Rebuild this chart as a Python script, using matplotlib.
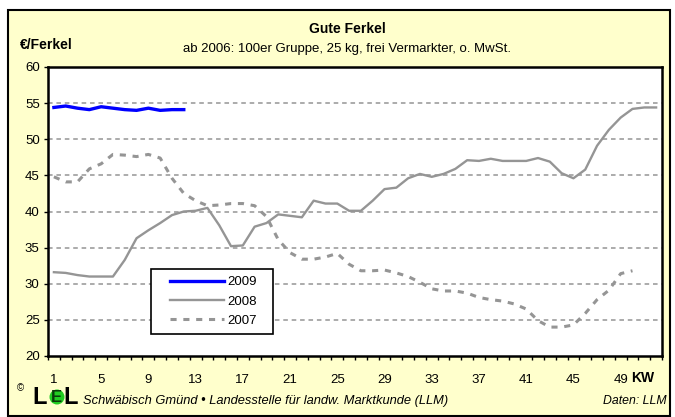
import matplotlib.pyplot as plt
from matplotlib.patches import Rectangle, Ellipse

weeks_2009 = list(range(1, 13))
price_2009 = [54.4, 54.6, 54.3, 54.1, 54.5, 54.3, 54.1, 54.0, 54.3, 54.0, 54.1, 54.1]

weeks_2008 = list(range(1, 53))
price_2008 = [31.6, 31.5, 31.2, 31.0, 31.0, 31.0, 33.3, 36.3, 37.4, 38.4,
              39.5, 40.0, 40.1, 40.5, 38.1, 35.2, 35.3, 37.9, 38.4, 39.6,
              39.4, 39.2, 41.5, 41.1, 41.1, 40.1, 40.1, 41.5, 43.1, 43.3,
              44.6, 45.2, 44.8, 45.2, 45.9, 47.1, 47.0, 47.3, 47.0, 47.0,
              47.0, 47.4, 46.9, 45.3, 44.6, 45.8, 49.1, 51.3, 53.0, 54.2,
              54.4, 54.4]

weeks_2007 = list(range(1, 51))
price_2007 = [44.8, 44.1, 44.1, 45.9, 46.6, 47.9, 47.8, 47.6, 47.9, 47.4,
              44.6, 42.5, 41.5, 40.8, 40.9, 41.1, 41.1, 40.8, 39.3, 36.1,
              34.3, 33.4, 33.4, 33.7, 34.2, 32.7, 31.8, 31.8, 31.9, 31.5,
              31.0, 30.2, 29.3, 29.0, 29.0, 28.7, 28.1, 27.8, 27.6, 27.2,
              26.5, 24.9, 24.0, 24.0, 24.3, 25.9, 27.8, 29.1, 31.4, 31.8]

x_labels = list(range(1, 52, 4))
y_ticks = list(range(20, 61, 5))

bg = '#FFFFCC'
grey = '#959595'

fig = plt.figure(figsize=(6.75, 4.17), dpi=100)
plt.rcParams['font.family'] = ['Liberation Sans', 'DejaVu Sans']

# yellow frame behind everything
fig.patches.append(Rectangle((8 / 675, 1 / 417), 662 / 675, 406 / 417,
                             transform=fig.transFigure, facecolor=bg,
                             edgecolor='black', linewidth=1.5, zorder=-5))

ax = fig.add_axes([48 / 675, 61 / 417, 614 / 675, 289 / 417])
ax.set_facecolor('white')

for y in range(25, 60, 5):
    ax.axhline(y, color=grey, lw=1.1, linestyle=(0, (3, 2.5)), zorder=1)

ax.plot(weeks_2009, price_2009, color='#0000FF', lw=2.4, label='2009', zorder=4)
ax.plot(weeks_2008, price_2008, color=grey, lw=1.7, label='2008', zorder=3)
ax.plot(weeks_2007, price_2007, color=grey, lw=2.2, linestyle=(0, (2, 2.2)),
        label='2007', zorder=3)

ax.set_xlim(0.5, 52.5)
ax.set_ylim(20, 60)
ax.set_yticks(y_ticks)
ax.set_xticks(x_labels)
ax.set_xticks([i + 0.5 for i in range(0, 53)], minor=True)
ax.tick_params(axis='x', which='major', length=0, pad=13, labelsize=9.5)
ax.tick_params(axis='x', which='minor', length=3, width=1, direction='out')
ax.tick_params(axis='y', length=3, width=1, direction='out', labelsize=9.5, pad=3)
for s in ax.spines.values():
    s.set_linewidth(1.8)

# legend box drawn by hand, legend itself without frame
ax.add_patch(Rectangle((0.1678, 0.0761), 0.1987, 0.2249, transform=ax.transAxes,
                       facecolor='white', edgecolor='black', lw=1.2, zorder=5))
leg = ax.legend(loc='center left', bbox_to_anchor=(0.1987, 0.1886), fontsize=9.5,
                frameon=False, handlelength=4.1, handletextpad=0.25,
                labelspacing=0.55, borderpad=0, borderaxespad=0)
leg.set_zorder(6)

fig.text(347 / 675, 1 - 29 / 417, 'Gute Ferkel', ha='center', va='center',
         fontsize=10, fontweight='bold')
fig.text(347 / 675, 1 - 49 / 417, 'ab 2006: 100er Gruppe, 25 kg, frei Vermarkter, o. MwSt.',
         ha='center', va='center', fontsize=9.5)
fig.text(20 / 675, 1 - 45 / 417, '€/Ferkel', ha='left', va='center',
         fontsize=10, fontweight='bold')
fig.text(643 / 675, 1 - 378 / 417, 'KW', ha='center', va='center',
         fontsize=10, fontweight='bold')

# footer with logo
fig.text(20 / 675, 1 - 388 / 417, '©', ha='center', va='center', fontsize=7)
fig.text(32 / 675, 1 - 397 / 417, 'L', ha='left', va='center', fontsize=17,
         fontweight='bold')
fig.patches.append(Ellipse((57 / 675, 1 - 397 / 417), 15 / 675, 15 / 417,
                           transform=fig.transFigure, facecolor='#22CC22',
                           edgecolor='none', zorder=2))
fig.text(56 / 675, 1 - 397 / 417, 'E', ha='center', va='center', fontsize=12,
         fontweight='bold', color='#0A3A0A', zorder=3)
fig.text(63 / 675, 1 - 397 / 417, 'L', ha='left', va='center', fontsize=17,
         fontweight='bold')
fig.text(83 / 675, 1 - 401 / 417,
         'Schwäbisch Gmünd • Landesstelle für landw. Marktkunde (LLM)',
         ha='left', va='center', fontsize=9.3, style='italic')
fig.text(667 / 675, 1 - 401 / 417, 'Daten: LLM', ha='right', va='center',
         fontsize=8.8, style='italic')

fig.savefig('out.png', dpi=100, facecolor='white')
